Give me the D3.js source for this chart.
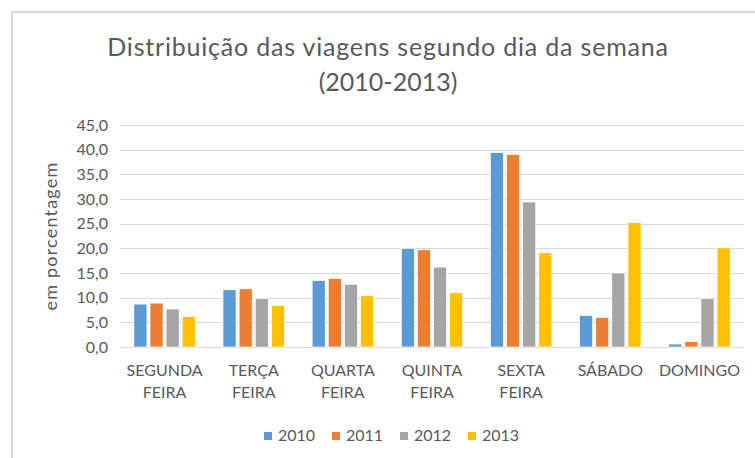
<!DOCTYPE html>
<html>
<head>
<meta charset="utf-8">
<script src="https://cdn.jsdelivr.net/npm/d3@7"></script>
<style>
  body { margin: 0; background: #fff; }
  text { font-family: Lato, "Open Sans", sans-serif; fill: #595959; }
</style>
</head>
<body>
<div id="chart"></div>
<script>
// data
var days = ["SEGUNDA FEIRA", "TERÇA FEIRA", "QUARTA FEIRA", "QUINTA FEIRA", "SEXTA FEIRA", "SÁBADO", "DOMINGO"];
var years = ["2010", "2011", "2012", "2013"];
var v2010 = [8.7, 11.6, 13.5, 20.0, 39.4, 6.4, 0.6];
var v2011 = [8.9, 11.8, 13.9, 19.7, 39.0, 6.0, 1.1];
var v2012 = [7.7, 9.8, 12.7, 16.2, 29.4, 15.0, 9.8];
var v2013 = [6.2, 8.4, 10.4, 11.0, 19.1, 25.2, 20.1];
var yTicks = [0, 5, 10, 15, 20, 25, 30, 35, 40, 45];
var colors = ["#5b9bd5", "#ed7d31", "#a5a5a5", "#ffc000"];

var series = [v2010, v2011, v2012, v2013];
var data = days.map(function(d, i) {
  return { day: d, values: years.map(function(y, j) { return { year: y, value: series[j][i] }; }) };
});

var W = 755, H = 458;
var margin = {top: 125, right: 11, bottom: 111, left: 120},
    width = W - margin.left - margin.right,
    height = H - margin.top - margin.bottom;

var root = d3.select("#chart").append("svg")
  .attr("width", W)
  .attr("height", H);

// outer frame (runs off the right and bottom edges)
root.append("rect")
  .attr("x", 12).attr("y", 12)
  .attr("width", 800).attr("height", 500)
  .attr("fill", "none")
  .attr("stroke", "#d9d9d9")
  .attr("stroke-width", 2);

// title
var title = root.append("text")
  .attr("text-anchor", "middle")
  .style("font-size", "25px");
title.append("tspan").attr("x", 388).attr("y", 56)
  .style("letter-spacing", "0.8px")
  .text("Distribuição das viagens segundo dia da semana");
title.append("tspan").attr("x", 388).attr("y", 91).text("(2010-2013)");

var svg = root.append("g")
  .attr("transform", "translate(" + margin.left + "," + margin.top + ")");

var y = d3.scaleLinear().domain([0, 45]).range([height, 0]);
var x0 = d3.scaleBand().domain(days).range([0, width]).padding(0);
var x1 = d3.scaleBand().domain(years).range([0, x0.bandwidth()])
  .paddingInner(0.19).paddingOuter(0.86);

// gridlines
svg.append("g")
  .selectAll("line")
  .data(yTicks)
  .join("line")
    .attr("x1", 0).attr("x2", width)
    .attr("y1", function(d) { return Math.round(y(d)) + 0.5; })
    .attr("y2", function(d) { return Math.round(y(d)) + 0.5; })
    .attr("stroke", "#d9d9d9")
    .attr("stroke-width", 1);

// Y axis labels
var yAxis = svg.append("g")
  .call(d3.axisLeft(y).tickValues(yTicks).tickSize(0).tickPadding(12)
    .tickFormat(function(d) { return d3.format(".1f")(d).replace(".", ","); }));
yAxis.select(".domain").remove();
yAxis.selectAll("text")
  .style("font-size", "16px")
  .style("font-family", "Lato, sans-serif")
  .attr("fill", "#595959");

// Y title
root.append("text")
  .attr("transform", "translate(57," + (margin.top + height / 2) + ") rotate(-90)")
  .attr("text-anchor", "middle")
  .style("font-size", "18px")
  .style("letter-spacing", "1.2px")
  .text("em porcentagem");

// bars
svg.append("g")
  .selectAll("g")
  .data(data)
  .join("g")
    .attr("transform", function(d) { return "translate(" + x0(d.day) + ",0)"; })
  .selectAll("rect")
  .data(function(d) { return d.values; })
  .join("rect")
    .attr("x", function(d) { return x1(d.year); })
    .attr("y", function(d) { return y(d.value); })
    .attr("width", x1.bandwidth())
    .attr("height", function(d) { return y(0) - y(d.value); })
    .attr("fill", function(d, i) { return colors[i]; })
    .attr("stroke", "#fff")
    .attr("stroke-width", 0.7);

// X axis labels (two lines)
var xAxis = svg.append("g")
  .attr("transform", "translate(0," + height + ")")
  .call(d3.axisBottom(x0).tickSize(0).tickFormat(""));
xAxis.select(".domain").remove();
xAxis.selectAll(".tick")
  .append("text")
    .attr("text-anchor", "middle")
    .style("font-size", "16px")
    .style("fill", "#595959")
    .style("font-family", "Lato, sans-serif")
  .each(function(d) {
    var t = d3.select(this);
    d.split(" ").forEach(function(w, i) {
      t.append("tspan").attr("x", 0).attr("y", 29 + i * 22).text(w);
    });
  });

// legend
var legend = root.append("g").attr("transform", "translate(264,432)");
var items = legend.selectAll("g")
  .data(years)
  .join("g")
    .attr("transform", function(d, i) { return "translate(" + (i * 68) + ",0)"; });
items.append("rect")
  .attr("width", 8).attr("height", 8)
  .attr("fill", function(d, i) { return colors[i]; });
items.append("text")
  .attr("x", 14).attr("y", 9)
  .style("font-size", "16px")
  .text(function(d) { return d; });
</script>
</body>
</html>
